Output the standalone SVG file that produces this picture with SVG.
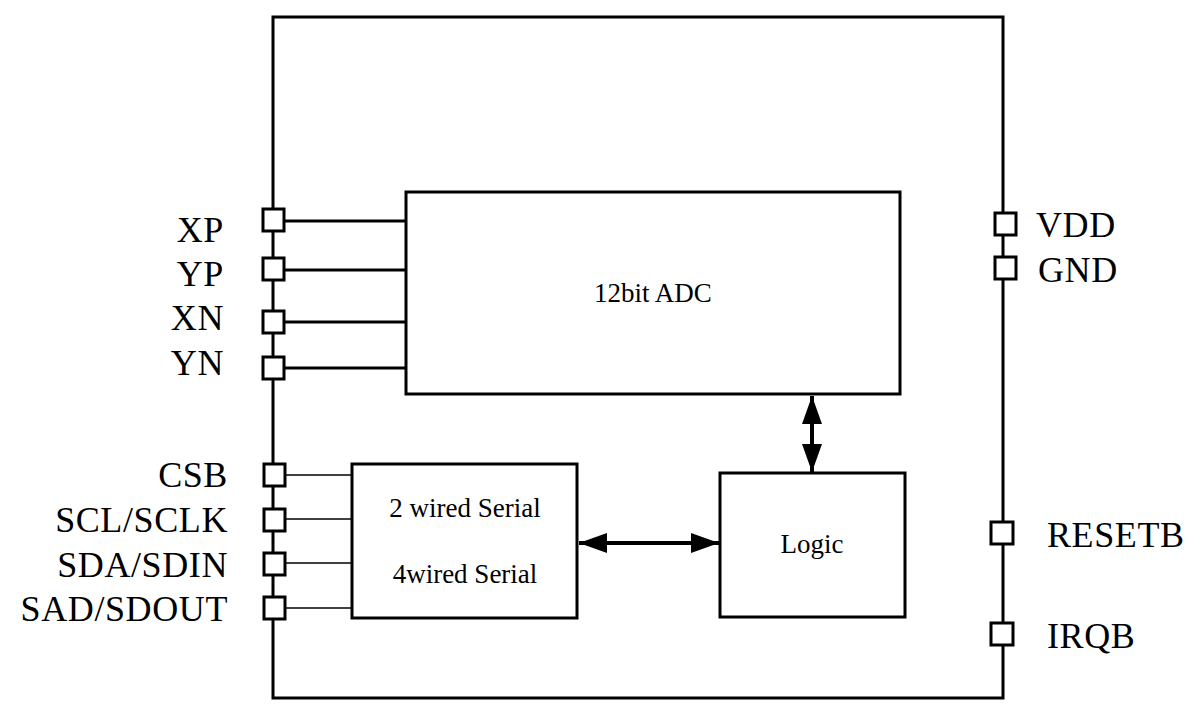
<svg xmlns="http://www.w3.org/2000/svg" width="1201" height="726" viewBox="0 0 1201 726">
<style>
.box{fill:#fff;stroke:#000;stroke-width:3}
.pin{fill:#fff;stroke:#000;stroke-width:3}
.wire{stroke:#000;stroke-width:3;fill:none}
.thin{stroke:#000;stroke-width:1.5;fill:none}
.lbl{font-family:"Liberation Serif","Times New Roman",serif;font-size:36px;fill:#000;letter-spacing:0.6px}
.in{font-family:"Liberation Serif","Times New Roman",serif;font-size:27px;fill:#000;text-anchor:middle}
</style>
<defs>
<marker id="ah" viewBox="0 0 28 20" refX="28" refY="10" markerWidth="28" markerHeight="20" markerUnits="userSpaceOnUse" orient="auto-start-reverse">
<path d="M0,0 L28,10 L0,20 Z" fill="#000"/>
</marker>
</defs>
<rect id="chip" x="273" y="17" width="730" height="681" fill="#fff" stroke="#000" stroke-width="3"/>
<g id="adc"><rect class="box" x="406" y="192" width="494" height="202"/><text class="in" x="653" y="302">12bit ADC</text></g>
<g id="serial"><rect class="box" x="352" y="464" width="225" height="154"/><text class="in" x="465" y="517">2 wired Serial</text><text class="in" x="465" y="583">4wired Serial</text></g>
<g id="logic"><rect class="box" x="720" y="473" width="185" height="144"/><text class="in" x="812" y="553">Logic</text></g>
<g id="connectors">
<line class="wire" x1="284" y1="221" x2="406" y2="221"/>
<line class="wire" x1="284" y1="270" x2="406" y2="270"/>
<line class="wire" x1="284" y1="322" x2="406" y2="322"/>
<line class="wire" x1="284" y1="368" x2="406" y2="368"/>
<line class="thin" x1="285" y1="475" x2="352" y2="475"/>
<line class="thin" x1="285" y1="519" x2="352" y2="519"/>
<line class="thin" x1="285" y1="563" x2="352" y2="563"/>
<line class="thin" x1="285" y1="608" x2="352" y2="608"/>
<line x1="812" y1="396" x2="812" y2="472" stroke="#000" stroke-width="4" marker-start="url(#ah)" marker-end="url(#ah)"/>
<line x1="579" y1="543" x2="719" y2="543" stroke="#000" stroke-width="4" marker-start="url(#ah)" marker-end="url(#ah)"/>
</g>
<g id="pin-XP"><rect class="pin" x="263" y="209" width="21" height="22"/><text class="lbl" x="224" y="242" text-anchor="end">XP</text></g>
<g id="pin-YP"><rect class="pin" x="263" y="258" width="21" height="22"/><text class="lbl" x="224" y="286" text-anchor="end">YP</text></g>
<g id="pin-XN"><rect class="pin" x="263" y="311" width="21" height="22"/><text class="lbl" x="224" y="330" text-anchor="end">XN</text></g>
<g id="pin-YN"><rect class="pin" x="263" y="357" width="21" height="22"/><text class="lbl" x="224" y="375" text-anchor="end">YN</text></g>
<g id="pin-CSB"><rect class="pin" x="264" y="464" width="21" height="22"/><text class="lbl" x="228" y="487" text-anchor="end">CSB</text></g>
<g id="pin-SCL"><rect class="pin" x="264" y="509" width="21" height="22"/><text class="lbl" x="228" y="532" text-anchor="end">SCL/SCLK</text></g>
<g id="pin-SDA"><rect class="pin" x="264" y="553" width="21" height="22"/><text class="lbl" x="228" y="577" text-anchor="end">SDA/SDIN</text></g>
<g id="pin-SAD"><rect class="pin" x="264" y="597" width="21" height="22"/><text class="lbl" x="228" y="621" text-anchor="end">SAD/SDOUT</text></g>
<g id="pin-VDD"><rect class="pin" x="995" y="213" width="21" height="22"/><text class="lbl" x="1036" y="237">VDD</text></g>
<g id="pin-GND"><rect class="pin" x="995" y="257" width="21" height="22"/><text class="lbl" x="1038" y="282">GND</text></g>
<g id="pin-RESETB"><rect class="pin" x="991" y="522" width="22" height="22"/><text class="lbl" x="1047" y="547">RESETB</text></g>
<g id="pin-IRQB"><rect class="pin" x="991" y="623" width="22" height="22"/><text class="lbl" x="1047" y="648">IRQB</text></g>
</svg>
